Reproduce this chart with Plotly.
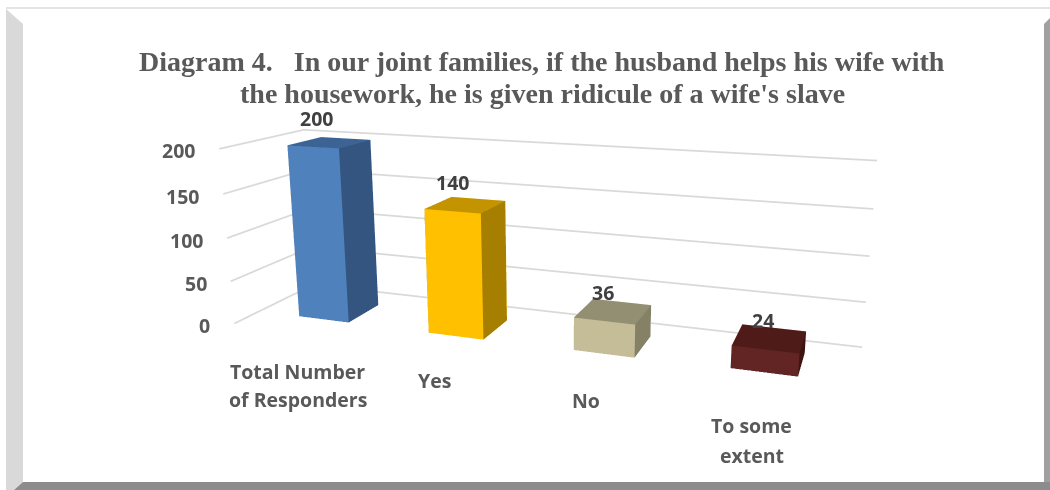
import plotly.graph_objects as go

# Survey responses shown as 3D columns
CATEGORIES = [["Total Number", "of Responders"], ["Yes"], ["No"], ["To some", "extent"]]
VALUES = [200, 140, 36, 24]
Y_TICKS = [0, 50, 100, 150, 200]
TITLE_LINES = [
    "Diagram 4.   In our joint families, if the husband helps his wife with",
    "the housework, he is given ridicule of a wife's slave",
]

# (front, side, top) face colours per column
FACE_COLOURS = [
    ("#4f81bd", "#335580", "#3b6495"),
    ("#ffc000", "#a67f00", "#c49400"),
    ("#c4bd97", "#848167", "#938f72"),
    ("#632523", "#3d1412", "#4f1b19"),
]

W, H_FIG, TOP_CUT = 1050, 792, 166
BAR_HALF_W, BAR_Y0, BAR_Y1 = 0.195, 0.29, 0.71
BAR_CENTRES = [0.52, 1.51, 2.505, 3.475]
BAR_DEPTH_SHIFT = [0, 0, 0.02, 0.05]


def column(i, value, colours):
    x0, x1 = BAR_CENTRES[i] - BAR_HALF_W, BAR_CENTRES[i] + BAR_HALF_W
    y0, y1 = BAR_Y0 + BAR_DEPTH_SHIFT[i], BAR_Y1 + BAR_DEPTH_SHIFT[i]
    xs = [x0, x1, x1, x0, x0, x1, x1, x0]
    ys = [y0, y0, y1, y1] * 2
    zs = [0] * 4 + [value] * 4
    faces = [
        (0, 1, 5, colours[0]), (0, 5, 4, colours[0]),
        (1, 2, 6, colours[1]), (1, 6, 5, colours[1]),
        (4, 5, 6, colours[2]), (4, 6, 7, colours[2]),
        (0, 3, 7, colours[1]), (0, 7, 4, colours[1]),
        (3, 2, 6, colours[0]), (3, 6, 7, colours[0]),
    ]
    return go.Mesh3d(
        x=xs, y=ys, z=zs,
        i=[f[0] for f in faces], j=[f[1] for f in faces], k=[f[2] for f in faces],
        facecolor=[f[3] for f in faces], flatshading=True,
        lighting=dict(ambient=1, diffuse=0, specular=0, roughness=1, fresnel=0),
        hoverinfo="skip", showscale=False,
    )


fig = go.Figure()

# gridlines on the side and back walls
for tick in Y_TICKS:
    fig.add_trace(go.Scatter3d(
        x=[0, 0, len(VALUES)], y=[0, 1, 1], z=[tick, tick, tick],
        mode="lines", line=dict(color="#d9d9d9", width=3.5),
        hoverinfo="skip", showlegend=False,
    ))

for i, v in enumerate(VALUES):
    fig.add_trace(column(i, v, FACE_COLOURS[i]))

AXIS_FONT = dict(family="Open Sans, sans-serif", size=19.5, color="#595959", weight=700)
VALUE_FONT = dict(family="Open Sans, sans-serif", size=19.5, color="#404040", weight=700)
scene_notes = []
for tick in Y_TICKS:
    scene_notes.append(dict(
        x=0, y=0, z=tick, text=str(tick), showarrow=False,
        xanchor="right", xshift=-22, yshift=-2, font=AXIS_FONT,
    ))
VALUE_SHIFT = [(-13, 24), (-13, 22), (-10, 20), (-6, 20)]
for i, v in enumerate(VALUES):
    scene_notes.append(dict(
        x=BAR_CENTRES[i], y=0.5, z=v, text=str(v), showarrow=False,
        xshift=VALUE_SHIFT[i][0], yshift=VALUE_SHIFT[i][1], font=VALUE_FONT,
    ))
CATEGORY_SHIFT = [[(0, -39), (0, -67)], [(-1, -30)], [(-3, -30)], [(-9, -32), (-9, -62)]]
for i, lines in enumerate(CATEGORIES):
    for line, (dx, dy) in zip(lines, CATEGORY_SHIFT[i]):
        scene_notes.append(dict(
            x=i + 0.5, y=0, z=0, text=line, showarrow=False,
            xshift=dx, yshift=dy, font=AXIS_FONT,
        ))

hidden = dict(visible=False, showgrid=False, zeroline=False, showline=False,
              showticklabels=False, showspikes=False, title="")


def py(pixel_y):
    # visible page rows to paper coordinates of the taller figure
    return 1 - (pixel_y + TOP_CUT) / H_FIG


def px(pixel_x):
    return pixel_x / W


def poly(points, colour):
    path = "M" + " L".join(f"{px(a)},{py(b)}" for a, b in points) + " Z"
    return dict(type="path", xref="paper", yref="paper", path=path,
                fillcolor=colour, line=dict(width=0), layer="below")


fig.update_layout(
    width=W, height=H_FIG, autosize=False,
    margin=dict(l=0, r=0, t=0, b=0, pad=0),
    paper_bgcolor="white", showlegend=False,
    scene=dict(
        domain=dict(x=[70 / W, 1], y=[0, 1]),
        xaxis=dict(range=[0, len(VALUES)], **hidden),
        yaxis=dict(range=[0, 1], **hidden),
        zaxis=dict(range=[0, 200], **hidden),
        aspectmode="manual",
        aspectratio=dict(x=1.857, y=0.436, z=0.55),
        camera=dict(
            eye=dict(x=0.969, y=-2.546, z=0.725),
            center=dict(x=0.060, y=0.035, z=0.048),
            up=dict(x=0, y=0, z=1),
            projection=dict(type="perspective"),
        ),
        annotations=scene_notes,
        bgcolor="rgba(0,0,0,0)",
    ),
    shapes=[
        poly([(6, 7), (1050, 7), (1050, 9), (6, 9)], "#e4e4e4"),
        poly([(6, 9), (23, 24), (23, 482), (14, 490), (6, 490)], "#d9d9d9"),
        poly([(1044, 24), (1050, 18), (1050, 490), (1044, 490)], "#a0a0a0"),
        poly([(23, 482), (1050, 482), (1050, 490), (14, 490)], "#8c8c8c"),
    ],
    annotations=[
        dict(xref="paper", yref="paper", x=px(542), y=py(62 + 31 * n), text=line,
             showarrow=False, xanchor="center", yanchor="middle",
             font=dict(family="Liberation Serif, serif", size=28, color="#595959", weight=700))
        for n, line in enumerate(TITLE_LINES)
    ],
)

# keep the figure window at 1050x490, lifting the taller plot into place
crop = f"""
var root = document.documentElement;
root.style.height = '490px';
root.style.overflow = 'hidden';
document.body.style.margin = '0';
document.body.style.height = '490px';
document.body.style.overflow = 'hidden';
document.getElementById('chart').style.marginTop = '-{TOP_CUT}px';
"""
fig.write_html("out.html", div_id="chart", post_script=crop)
